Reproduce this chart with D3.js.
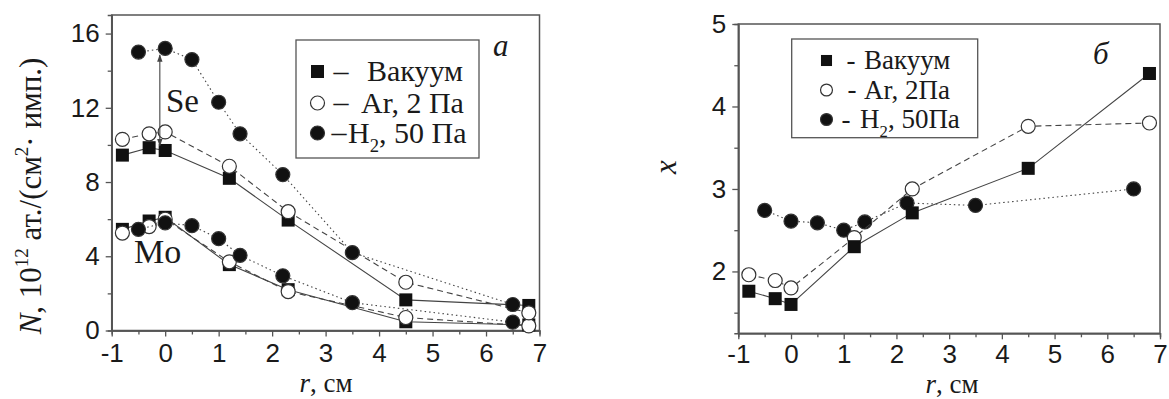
<!DOCTYPE html>
<html>
<head>
<meta charset="utf-8">
<script src="https://cdn.jsdelivr.net/npm/d3@7"></script>
<style>
  body { margin: 0; background: #fff; }
  svg { display: block; }
</style>
</head>
<body>
<svg id="d3-canvas" width="1169" height="399"></svg>
<script>
// ---- data ----
// panel a: surface density N of Se and Mo vs r
const rFull = [-0.8, -0.3, 0, 1.2, 2.3, 4.5, 6.8]
const rH2 = [-0.5, 0, 0.5, 1.0, 1.4, 2.2, 3.5, 6.5]
const seVac = [9.45, 9.85, 9.7, 8.2, 5.95, 1.65, 1.35]
const seAr = [10.3, 10.6, 10.7, 8.85, 6.4, 2.6, 0.95]
const seH2 = [15.0, 15.2, 14.6, 12.3, 10.6, 8.4, 4.2, 1.4]
const moVac = [5.45, 5.9, 6.1, 3.55, 2.2, 0.47, 0.3]
const moAr = [5.25, 5.6, 6.0, 3.7, 2.1, 0.7, 0.25]
const moH2 = [5.45, 5.8, 5.65, 4.95, 4.05, 2.95, 1.5, 0.45]
// arrow between Se curves (r, from N, to N)
const seArrow = [-0.1, 9.95, 14.85]

// panel б: x = Se/Mo ratio vs r
const xVac = [1.76, 1.67, 1.6, 2.3, 2.71, 3.25, 4.4]
const xAr = [1.96, 1.89, 1.8, 2.41, 3.0, 3.76, 3.8]
const xH2 = [2.74, 2.61, 2.59, 2.5, 2.6, 2.83, 2.8, 3.0]

const xTicks = [-1, 0, 1, 2, 3, 4, 5, 6, 7]
const xMinor = [-0.5, 0.5, 1.5, 2.5, 3.5, 4.5, 5.5, 6.5]
const nTicks = [0, 4, 8, 12, 16]
const nMinor = [2, 6, 10, 14]
const ratioTicks = [2, 3, 4, 5]
const ratioMinor = [1.5, 2.5, 3.5, 4.5]

const legendA = ["Вакуум", "Ar, 2 Па", "50 Па"]
const legendB = ["Вакуум", "Ar, 2Па", "50Па"]

const svg = d3.select('#d3-canvas')
const ink = "#1a1a1a"
const serif = "'Liberation Serif', 'Times New Roman', serif"
const sans = "'Liberation Sans', Arial, sans-serif"

function zip(xs, ys) { return xs.map((v, i) => [v, ys[i]]) }

// draws frame, axes, ticks for one panel
function panel(x, y, major, minor, yMajor, yMinor, padX) {
  const g = svg.append("g")
  const [x0, x1] = x.range(), [y0, y1] = y.range()
  g.append("rect").attr("x", x0).attr("y", y1).attr("width", x1 - x0).attr("height", y0 - y1)
    .attr("fill", "none").attr("stroke", "#555").attr("stroke-width", 1.5)
  const ax = g.append("g").attr("transform", `translate(0,${y0})`)
    .call(d3.axisBottom(x).tickValues(major).tickSize(6).tickPadding(padX).tickSizeOuter(0).tickFormat(d => String(d)))
  ax.append("g").call(d3.axisBottom(x).tickValues(minor).tickSize(4).tickFormat(""))
  const ay = g.append("g").attr("transform", `translate(${x0},0)`)
    .call(d3.axisLeft(y).tickValues(yMajor).tickSize(6).tickPadding(6).tickSizeOuter(0).tickFormat(d => String(d)))
  ay.append("g").call(d3.axisLeft(y).tickValues(yMinor).tickSize(4).tickFormat(""))
  g.selectAll(".domain").attr("stroke", "#555").attr("stroke-width", 1.5)
  g.selectAll(".tick line").attr("stroke", "#555").attr("stroke-width", 1.3)
  g.selectAll(".tick text").attr("font-family", sans).attr("font-size", 26).attr("fill", ink)
  return g
}

function series(g, x, y, pts, kind) {
  const line = d3.line().x(d => x(d[0])).y(d => y(d[1]))
  const dash = kind == "vac" ? null : kind == "ar" ? "6,4" : "1.5,3"
  g.append("path").datum(pts)
    .attr("fill", "none").attr("stroke", "#444").attr("stroke-width", 1.1)
    .attr("stroke-dasharray", dash).attr("d", line)
  pts.forEach(p => marker(g, x(p[0]), y(p[1]), kind, 1))
}

function marker(g, cx, cy, kind, s) {
  if (kind == "vac") {
    g.append("rect").attr("x", cx - 6.5 * s).attr("y", cy - 6.5 * s).attr("width", 13 * s).attr("height", 13 * s)
      .attr("fill", "#111").attr("stroke", "none")
  } else {
    g.append("circle").attr("cx", cx).attr("cy", cy).attr("r", 7 * s)
      .attr("fill", kind == "ar" ? "#fff" : "#111").attr("stroke", "#333").attr("stroke-width", 1.2)
  }
}

// legend: box, symbol column, dash column, label column
function legend(g, box, rows, texts, symX, dashX, textX, fs, s) {
  g.append("rect").attr("x", box[0]).attr("y", box[1]).attr("width", box[2]).attr("height", box[3])
    .attr("fill", "#fff").attr("stroke", "#555").attr("stroke-width", 1.3)
  const kinds = ["vac", "ar", "h2"]
  kinds.forEach((k, i) => {
    const cy = rows[i]
    marker(g, symX, cy, k, s)
    g.append("text").attr("x", dashX[i]).attr("y", cy + fs * 0.3).attr("text-anchor", "middle")
      .attr("font-family", serif).attr("font-size", fs).attr("fill", ink).text(s < 1 ? "-" : "–")
    const t = g.append("text").attr("x", textX[i]).attr("y", cy + fs * 0.33)
      .attr("font-family", serif).attr("font-size", fs).attr("fill", ink)
    if (k == "h2") {
      t.append("tspan").text("H")
      t.append("tspan").attr("font-size", fs * 0.62).attr("dy", fs * 0.3).text("2")
      t.append("tspan").attr("dy", -fs * 0.3).text(", " + texts[i])
    } else t.append("tspan").text(texts[i])
  })
}

function rTitle(g, cx, base) {
  const t = g.append("text").attr("x", cx).attr("y", base).attr("text-anchor", "middle")
    .attr("font-family", serif).attr("font-size", 27).attr("fill", ink)
  t.append("tspan").attr("font-style", "italic").text("r")
  t.append("tspan").text(", см")
}

// ---- panel a ----
const xa = d3.scaleLinear().domain([-1, 7]).range([111.7, 539.5])
const ya = d3.scaleLinear().domain([0, 17]).range([330.5, 15])
const ga = panel(xa, ya, xTicks, xMinor, nTicks, nMinor, 7)

series(ga, xa, ya, zip(rFull, moVac), "vac")
series(ga, xa, ya, zip(rFull, moAr), "ar")
series(ga, xa, ya, zip(rH2, moH2), "h2")
series(ga, xa, ya, zip(rFull, seVac), "vac")
series(ga, xa, ya, zip(rFull, seAr), "ar")
series(ga, xa, ya, zip(rH2, seH2), "h2")

svg.append("defs").append("marker").attr("id", "ah").attr("viewBox", "0 0 10 10")
  .attr("refX", 9).attr("refY", 5).attr("markerWidth", 7).attr("markerHeight", 9).attr("orient", "auto-start-reverse")
  .append("path").attr("d", "M0,1.5 L10,5 L0,8.5 Z").attr("fill", "#444")
ga.append("line").attr("x1", xa(seArrow[0])).attr("x2", xa(seArrow[0]))
  .attr("y1", ya(seArrow[1])).attr("y2", ya(seArrow[2]))
  .attr("stroke", "#444").attr("stroke-width", 1.1)
  .attr("marker-start", "url(#ah)").attr("marker-end", "url(#ah)")

ga.append("text").attr("x", 166).attr("y", 112).attr("font-family", serif).attr("font-size", 33).attr("fill", ink).text("Se")
ga.append("text").attr("x", 134).attr("y", 263).attr("font-family", serif).attr("font-size", 34).attr("fill", ink).text("Mo")
ga.append("text").attr("x", 493).attr("y", 56).attr("font-family", serif).attr("font-style", "italic").attr("font-size", 31).attr("fill", ink).text("a")

legend(ga, [296, 40, 183, 118], [71.5, 103, 133], legendA, 317.5, [341, 341, 339], [367, 361, 348], 30, 1)

rTitle(ga, 326, 392)

const yl = ga.append("text").attr("transform", "translate(41,196) rotate(-90)").attr("text-anchor", "middle")
  .attr("font-family", serif).attr("font-size", 31).attr("fill", ink)
yl.append("tspan").attr("font-style", "italic").text("N")
yl.append("tspan").text(", 10")
yl.append("tspan").attr("font-size", 19).attr("dy", -13).text("12")
yl.append("tspan").attr("dy", 13).text(" ат./(см")
yl.append("tspan").attr("font-size", 19).attr("dy", -13).text("2")
yl.append("tspan").attr("dy", 13).text("· имп.)")

// ---- panel б ----
const xb = d3.scaleLinear().domain([-1, 7]).range([738.3, 1160])
const yb = d3.scaleLinear().domain([1.25, 5]).range([333.3, 24])
const gb = panel(xb, yb, xTicks, xMinor, ratioTicks, ratioMinor, 5)

series(gb, xb, yb, zip(rH2, xH2), "h2")
series(gb, xb, yb, zip(rFull, xAr), "ar")
series(gb, xb, yb, zip(rFull, xVac), "vac")

legend(gb, [791.7, 39, 186, 98.7], [60.5, 90, 119.5], legendB, 826.5, [851, 852, 846], [864, 864, 860], 27, 0.85)

gb.append("text").attr("x", 1093).attr("y", 64).attr("font-family", serif).attr("font-style", "italic").attr("font-size", 31).attr("fill", ink).text("б")

rTitle(gb, 952, 393)

gb.append("text").attr("transform", "translate(676,167) rotate(-90)").attr("text-anchor", "middle")
  .attr("font-family", serif).attr("font-style", "italic").attr("font-size", 31).attr("fill", ink).text("x")
</script>
</body>
</html>
